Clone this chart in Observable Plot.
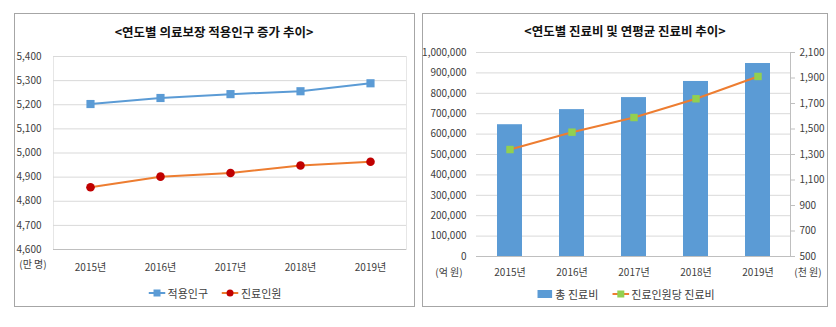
<!DOCTYPE html>
<html><head><meta charset="utf-8">
<script src="https://cdn.jsdelivr.net/npm/d3@7"></script>
<script src="https://cdn.jsdelivr.net/npm/@observablehq/plot@0.6"></script>
<style>
body{margin:0;width:836px;height:327px;background:#fff;font-family:"Noto Sans CJK KR","Noto Sans",sans-serif;position:relative;overflow:hidden}
.panel{position:absolute;border:1px solid #a6a6a6;box-sizing:border-box;background:#fff}
.title{position:absolute;text-align:center;font-weight:bold;font-size:12.5px;color:#111;line-height:16px;white-space:nowrap;transform:translateX(-50%)}
.unit{position:absolute;font-size:10px;color:#404040;line-height:10px;white-space:nowrap;transform:translate(-50%,-50%)}
.chart{position:absolute}
.legend{position:absolute;display:flex;align-items:center;font-size:11px;color:#404040;line-height:14px;white-space:nowrap;transform:translate(-50%,-50%)}
.legend .item{display:flex;align-items:center;margin:0 7px}
.legend svg{margin-right:2px}
</style>
</head><body>
<div class="panel" style="left:14px;top:13px;width:401px;height:294px"></div>
<div class="panel" style="left:422px;top:13px;width:406px;height:294px"></div>
<div class="title" style="left:214px;top:24px">&lt;연도별 의료보장 적용인구 증가 추이&gt;</div>
<div class="title" style="left:625px;top:23px">&lt;연도별 진료비 및 연평균 진료비 추이&gt;</div>
<div id="left" class="chart" style="left:14px;top:40px"></div>
<div id="rightBars" class="chart" style="left:422px;top:40px"></div>
<div id="rightLine" class="chart" style="left:422px;top:40px"></div>
<div class="unit" style="left:33px;top:264px">(만 명)</div>
<div class="unit" style="left:449px;top:272px">(억 원)</div>
<div class="unit" style="left:808px;top:272px">(천 원)</div>
<div class="legend" style="left:215px;top:293px">
  <div class="item"><svg width="17" height="10"><line x1="0" y1="5" x2="17" y2="5" stroke="#5b9bd5" stroke-width="2"/><rect x="5" y="1.5" width="7" height="7" fill="#5b9bd5"/></svg>적용인구</div>
  <div class="item"><svg width="17" height="10"><line x1="0" y1="5" x2="17" y2="5" stroke="#ed7d31" stroke-width="2"/><circle cx="8.5" cy="5" r="3.5" fill="#c00000"/></svg>진료인원</div>
</div>
<div class="legend" style="left:626px;top:294px">
  <div class="item"><svg width="15" height="8" style="margin-right:3px"><rect x="0" y="0" width="15" height="8" fill="#5b9bd5"/></svg>총 진료비</div>
  <div class="item"><svg width="17" height="10"><line x1="0" y1="5" x2="17" y2="5" stroke="#ed7d31" stroke-width="2"/><rect x="5" y="1.5" width="7" height="7" fill="#92d050"/></svg>진료인원당 진료비</div>
</div>
<script>
const years = ["2015년", "2016년", "2017년", "2018년", "2019년"];
const coveredPopulation = [5203, 5228, 5244, 5256, 5289];
const patients = [4858, 4902, 4917, 4948, 4964];
const populationTicks = [4600, 4700, 4800, 4900, 5000, 5100, 5200, 5300, 5400];
const totalCost = [646000, 720000, 779000, 858000, 946000];
const costPerPatient = [1339, 1475, 1590, 1737, 1912];
const costTicks = [0, 100000, 200000, 300000, 400000, 500000, 600000, 700000, 800000, 900000, 1000000];
const perPatientTicks = [500, 700, 900, 1100, 1300, 1500, 1700, 1900, 2100];

const font = '"Noto Sans CJK KR","Noto Sans",sans-serif';
const fmt = d3.format(",");

const leftData = years.map((y, i) => ({year: y, pop: coveredPopulation[i], pat: patients[i]}));
const rightData = years.map((y, i) => ({year: y, cost: totalCost[i], per: costPerPatient[i]}));

const leftChart = Plot.plot({
  width: 400, height: 240,
  marginLeft: 39, marginRight: 8, marginTop: 16, marginBottom: 31,
  style: {fontFamily: font, fontSize: "10px", color: "#404040", background: "transparent"},
  x: {type: "band", domain: years, padding: 0, label: null},
  y: {domain: [4600, 5400], label: null},
  marks: [
    Plot.frame({stroke: "#e6e6e6"}),
    Plot.gridY(populationTicks, {stroke: "#d9d9d9", strokeOpacity: 1}),
    Plot.ruleY([4600], {stroke: "#bfbfbf"}),
    Plot.axisY(populationTicks, {tickSize: 0, tickPadding: 12, tickFormat: fmt, label: null}),
    Plot.axisX({tickSize: 0, tickPadding: 14, label: null}),
    Plot.line(leftData, {x: "year", y: "pop", stroke: "#5b9bd5", strokeWidth: 2}),
    Plot.dot(leftData, {x: "year", y: "pop", symbol: "square", fill: "#5b9bd5", r: 4.6}),
    Plot.line(leftData, {x: "year", y: "pat", stroke: "#ed7d31", strokeWidth: 2}),
    Plot.dot(leftData, {x: "year", y: "pat", symbol: "circle", fill: "#c00000", r: 4.3})
  ]
});
document.getElementById("left").append(leftChart);

const xOpts = {type: "band", domain: years, paddingInner: 0.6, paddingOuter: 0.3, label: null};

const barsChart = Plot.plot({
  width: 405, height: 240,
  marginLeft: 54, marginRight: 37, marginTop: 12, marginBottom: 24,
  style: {fontFamily: font, fontSize: "10px", color: "#404040", background: "transparent"},
  x: xOpts,
  y: {domain: [0, 1000000], label: null},
  marks: [
    Plot.gridY(costTicks, {stroke: "#d9d9d9", strokeOpacity: 1}),
    Plot.axisY(costTicks, {tickSize: 0, tickPadding: 10, tickFormat: fmt, label: null}),
    Plot.axisX({tickSize: 0, tickPadding: 12, label: null}),
    Plot.barY(rightData, {x: "year", y: "cost", fill: "#5b9bd5"}),
    Plot.ruleY([0], {stroke: "#bfbfbf"})
  ]
});
document.getElementById("rightBars").append(barsChart);

const lineChart = Plot.plot({
  width: 405, height: 240,
  marginLeft: 54, marginRight: 37, marginTop: 12, marginBottom: 24,
  style: {fontFamily: font, fontSize: "10px", color: "#404040", background: "transparent"},
  x: {...xOpts, axis: null},
  y: {domain: [500, 2100], label: null},
  marks: [
    Plot.frame({anchor: "right", stroke: "#bfbfbf"}),
    Plot.axisY(perPatientTicks, {anchor: "right", tickSize: 4, tickPadding: 5, stroke: "#bfbfbf", fill: "#404040", tickFormat: fmt, label: null}),
    Plot.line(rightData, {x: "year", y: "per", stroke: "#ed7d31", strokeWidth: 2}),
    Plot.dot(rightData, {x: "year", y: "per", symbol: "square", fill: "#92d050", r: 4.2})
  ]
});
document.getElementById("rightLine").append(lineChart);
</script>
</body></html>
